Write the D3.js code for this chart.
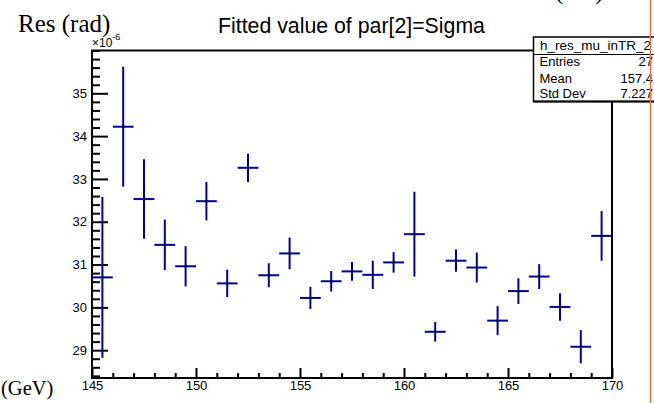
<!DOCTYPE html>
<html>
<head>
<meta charset="utf-8">
<script src="https://cdn.jsdelivr.net/npm/d3@7"></script>
<style>
  html, body { margin: 0; padding: 0; background: #fff; }
  svg { display: block; }
  .tick text { font-family: "Liberation Sans", Arial, Helvetica, sans-serif; font-size: 13px; fill: #000; }
</style>
</head>
<body>
<script>
// Fitted sigma per 1 GeV bin (units of 1e-6 rad) with fit errors
const binLowEdges = [145,146,147,148,149,150,151,152,153,154,155,156,157,158,159,160,161,162,163,164,165,166,167,168,169];
const sigmaValues = [30.70,34.22,32.53,31.46,30.96,32.48,30.56,33.26,30.75,31.26,30.22,30.61,30.84,30.76,31.05,31.71,29.43,31.09,30.93,29.69,30.38,30.72,30.01,29.08,31.67];
const sigmaErrors = [1.88,1.40,0.93,0.59,0.47,0.45,0.32,0.33,0.28,0.37,0.26,0.24,0.22,0.33,0.24,0.99,0.23,0.26,0.35,0.34,0.30,0.29,0.32,0.39,0.58];
const binWidth = 1;

const xMajorTicks = [145,150,155,160,165,170];
const yMajorTicks = [29,30,31,32,33,34,35];

const statsTitle = "h_res_mu_inTR_2";
const statsLabels = ["Entries","Mean","Std Dev"];
const statsValues = ["27","157.4","7.227"];

const W = 654, H = 403;
const frame = { left: 92, right: 612, top: 50.5, bottom: 378 };
const sans = '"Liberation Sans", Arial, Helvetica, sans-serif';
const serif = '"Liberation Serif", "Times New Roman", serif';
const markColor = "#000099";

const svg = d3.select("body").append("svg").attr("width", W).attr("height", H);

const x = d3.scaleLinear().domain([145, 170]).range([frame.left, frame.right]);
const y = d3.scaleLinear().domain([28.35, 36.0]).range([frame.bottom, frame.top]);

// minor tick positions
const xMinor = d3.range(145, 170.001, 1).filter(v => !xMajorTicks.includes(v));
const yMinor = d3.range(28.4, 36.0, 0.2).map(v => +v.toFixed(1)).filter(v => !yMajorTicks.includes(v));

// bottom axis
const gx = svg.append("g").attr("transform", `translate(0,${frame.bottom})`);
gx.call(d3.axisBottom(x).tickValues(xMajorTicks).tickSize(-10).tickPadding(3).tickFormat(d3.format("d")));
gx.append("g").call(d3.axisBottom(x).tickValues(xMinor).tickSize(-5).tickFormat(""));
gx.selectAll(".domain").remove();
gx.selectAll("line").attr("stroke", "#000").attr("stroke-width", 2);

// left axis
const gy = svg.append("g").attr("transform", `translate(${frame.left},0)`);
gy.call(d3.axisLeft(y).tickValues(yMajorTicks).tickSize(-16).tickPadding(5).tickFormat(d3.format("d")));
gy.append("g").call(d3.axisLeft(y).tickValues(yMinor).tickSize(-8).tickFormat(""));
gy.selectAll(".domain").remove();
gy.selectAll("line").attr("stroke", "#000").attr("stroke-width", 2);

// frame
svg.append("rect")
  .attr("x", frame.left).attr("y", frame.top)
  .attr("width", frame.right - frame.left).attr("height", frame.bottom - frame.top)
  .attr("fill", "none").attr("stroke", "#000").attr("stroke-width", 2);

// data points with errors
const pts = binLowEdges.map((lo, i) => ({ lo, hi: lo + binWidth, c: lo + binWidth / 2, v: sigmaValues[i], e: sigmaErrors[i] }));
const gp = svg.append("g").attr("stroke", markColor).attr("stroke-width", 2);
gp.selectAll("line.v").data(pts).join("line").attr("class", "v")
  .attr("x1", d => x(d.c)).attr("x2", d => x(d.c))
  .attr("y1", d => y(d.v - d.e)).attr("y2", d => y(d.v + d.e));
gp.selectAll("line.h").data(pts).join("line").attr("class", "h")
  .attr("x1", d => x(d.lo)).attr("x2", d => x(d.hi))
  .attr("y1", d => y(d.v)).attr("y2", d => y(d.v));
svg.append("g").selectAll("rect").data(pts).join("rect")
  .attr("x", d => x(d.c) - 1).attr("y", d => y(d.v) - 1)
  .attr("width", 2).attr("height", 2).attr("fill", "#000");

// exponent label
const ex = svg.append("text").attr("x", frame.left).attr("y", 47)
  .attr("font-family", sans).attr("font-size", 12).attr("fill", "#000");
ex.append("tspan").text("×10");
ex.append("tspan").attr("dy", -7).attr("font-size", 9).text("-6");

// title
svg.append("text").attr("x", 351.5).attr("y", 33.3).attr("text-anchor", "middle")
  .attr("font-family", sans).attr("font-size", 21.3).attr("fill", "#000")
  .text("Fitted value of par[2]=Sigma");

// axis titles
svg.append("text").attr("x", 18).attr("y", 32).attr("font-family", serif)
  .attr("font-size", 25).attr("fill", "#000").text("Res (rad)");
svg.append("text").attr("x", 555).attr("y", -1).attr("font-family", serif)
  .attr("font-size", 25).attr("fill", "#000").text("(rad)");
svg.append("text").attr("x", 1).attr("y", 395).attr("font-family", serif)
  .attr("font-size", 20.5).attr("fill", "#000").text("(GeV)");

// stats box
const sb = svg.append("g");
sb.append("rect").attr("x", 533.5).attr("y", 37).attr("width", 140).attr("height", 64.5)
  .attr("fill", "#fff").attr("stroke", "#000").attr("stroke-width", 1.5);
sb.append("line").attr("x1", 533.5).attr("x2", 674).attr("y1", 101.5).attr("y2", 101.5)
  .attr("stroke", "#000").attr("stroke-width", 2);
sb.append("line").attr("x1", 533.5).attr("x2", 674).attr("y1", 54.5).attr("y2", 54.5)
  .attr("stroke", "#000").attr("stroke-width", 1);
sb.append("text").attr("x", 540).attr("y", 50).attr("font-family", sans)
  .attr("font-size", 13.5).attr("fill", "#000").text(statsTitle);
const rowY = [66, 82.5, 98];
sb.selectAll("text.lab").data(statsLabels).join("text").attr("class", "lab")
  .attr("x", 539.5).attr("y", (d, i) => rowY[i]).attr("font-family", sans)
  .attr("font-size", 13).attr("fill", "#000").text(d => d);
sb.selectAll("text.val").data(statsValues).join("text").attr("class", "val")
  .attr("x", 653).attr("y", (d, i) => rowY[i]).attr("text-anchor", "end")
  .attr("font-family", sans).attr("font-size", 13).attr("fill", "#000").text(d => d);

// right edge marker line
svg.append("line").attr("x1", 650.5).attr("x2", 650.5).attr("y1", 0).attr("y2", H)
  .attr("stroke", "#f0703c").attr("stroke-width", 1.5);
</script>
</body>
</html>
